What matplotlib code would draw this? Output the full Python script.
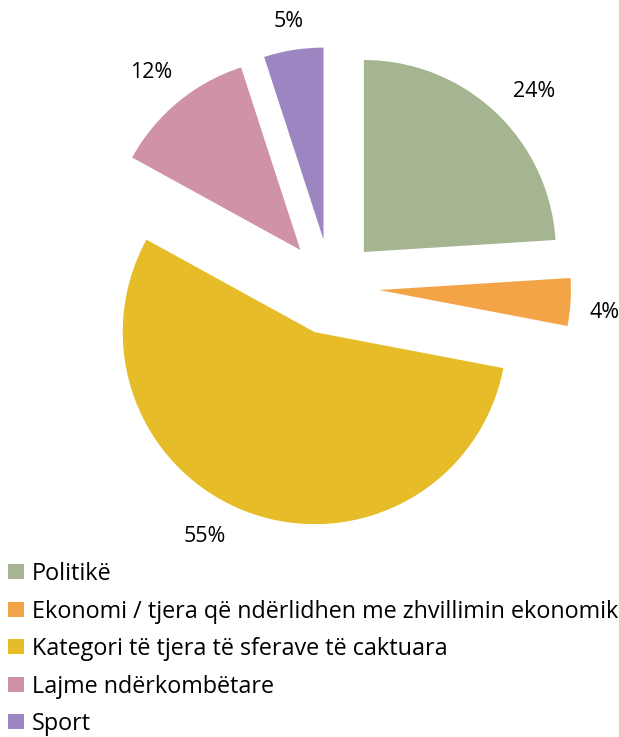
import numpy as np
import matplotlib.pyplot as plt

categories = [
    "Politikë",
    "Ekonomi / tjera që ndërlidhen me zhvillimin ekonomik",
    "Kategori të tjera të sferave të caktuara",
    "Lajme ndërkombëtare",
    "Sport",
]
shares = [24, 4, 55, 12, 5]
colors = ["#A5B592", "#F3A447", "#E7BC29", "#D092A7", "#9C85C0"]

# label placement (in radii from the exploded wedge centre, and angle nudge)
label_dist = [1.22, 1.18, 1.21, 1.21, 1.15]
label_nudge = [-3.5, -2.0, -8.5, 0.5, 0.0]

W, H = 619, 737
CX, CY, R = 331, 287, 192   # pie centre and radius in pixels


def main():
    plt.rcParams["font.family"] = ["Open Sans", "DejaVu Sans"]
    fig = plt.figure(figsize=(W / 100, H / 100), dpi=100)
    ax = fig.add_axes([0, 0, 1, 1])

    wedges, _, autotexts = ax.pie(
        shares,
        colors=colors,
        explode=[0.25] * len(shares),
        startangle=90,
        counterclock=False,
        autopct="%1.0f%%",
        pctdistance=1.2,
        textprops={"fontsize": 15.5, "color": "black"},
        wedgeprops={"linewidth": 0},
    )

    # move the percent labels a little, like the original layout
    for w, t, d, nudge in zip(wedges, autotexts, label_dist, label_nudge):
        ang = np.deg2rad((w.theta1 + w.theta2) / 2 + nudge)
        cx, cy = w.center
        t.set_position((cx + d * w.r * np.cos(ang), cy + d * w.r * np.sin(ang)))

    ax.set_xlim(-CX / R, (W - CX) / R)
    ax.set_ylim((CY - H) / R, CY / R)
    ax.set_aspect("equal")
    ax.axis("off")

    fig.legend(
        wedges,
        categories,
        loc="upper left",
        bbox_to_anchor=(8 / W, 1 - 562 / H),
        frameon=False,
        fontsize=16.8,
        handlelength=0.68,
        handleheight=0.6,
        handletextpad=0.35,
        labelspacing=0.58,
        borderaxespad=0,
        borderpad=0,
    )

    fig.savefig("out.png", dpi=100)


if __name__ == "__main__":
    main()
